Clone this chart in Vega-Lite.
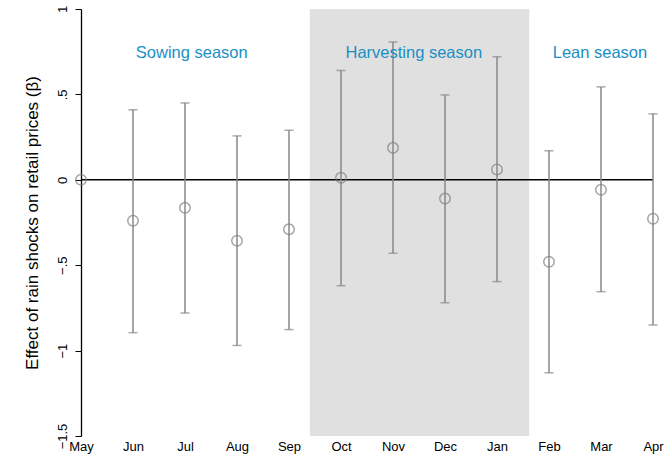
{
  "$schema": "https://vega.github.io/schema/vega-lite/v6.json",
  "width": 572,
  "height": 427,
  "autosize": {"type": "none"},
  "padding": {"left": 81, "top": 9, "right": 14, "bottom": 24},
  "config": {
    "view": {"stroke": null},
    "font": "Liberation Sans"
  },
  "datasets": {
    "est": [
      {"m": 0, "month": "May", "b": 0, "lo": 0, "hi": 0},
      {"m": 1, "month": "Jun", "b": -0.24, "lo": -0.895, "hi": 0.41},
      {"m": 2, "month": "Jul", "b": -0.164, "lo": -0.78, "hi": 0.45},
      {"m": 3, "month": "Aug", "b": -0.357, "lo": -0.97, "hi": 0.257},
      {"m": 4, "month": "Sep", "b": -0.29, "lo": -0.877, "hi": 0.29},
      {"m": 5, "month": "Oct", "b": 0.012, "lo": -0.62, "hi": 0.64},
      {"m": 6, "month": "Nov", "b": 0.187, "lo": -0.43, "hi": 0.807},
      {"m": 7, "month": "Dec", "b": -0.11, "lo": -0.72, "hi": 0.497},
      {"m": 8, "month": "Jan", "b": 0.06, "lo": -0.596, "hi": 0.72},
      {"m": 9, "month": "Feb", "b": -0.48, "lo": -1.13, "hi": 0.17},
      {"m": 10, "month": "Mar", "b": -0.058, "lo": -0.655, "hi": 0.544},
      {"m": 11, "month": "Apr", "b": -0.228, "lo": -0.85, "hi": 0.386}
    ],
    "seasons": [
      {"x": 2.13, "y": 0.74, "label": "Sowing season"},
      {"x": 6.4, "y": 0.74, "label": "Harvesting season"},
      {"x": 9.98, "y": 0.74, "label": "Lean season"}
    ],
    "shade": [
      {"x1": 4.4, "x2": 8.62, "y1": -1.5, "y2": 1}
    ]
  },
  "layer": [
    {
      "data": {"name": "shade"},
      "mark": {"type": "rect", "color": "#e0e0e0"},
      "encoding": {
        "x": {"field": "x1", "type": "quantitative", "scale": {"domain": [0, 11], "nice": false, "zero": false},
          "axis": {"values": [0,1,2,3,4,5,6,7,8,9,10,11], "labelExpr": "['May','Jun','Jul','Aug','Sep','Oct','Nov','Dec','Jan','Feb','Mar','Apr'][datum.value]", "domain": false, "ticks": false, "grid": false, "title": null, "labelFontSize": 13, "labelColor": "#000", "labelPadding": 4, "labelFont": "Liberation Sans", "labelFlush": false}},
        "x2": {"field": "x2"},
        "y": {"field": "y1", "type": "quantitative", "scale": {"domain": [-1.5, 1], "nice": false, "zero": false},
          "axis": {"values": [-1.5, -1, -0.5, 0, 0.5, 1], "labelExpr": "replace(format(datum.value, ''), '0.', '.')", "labelAngle": -90, "labelAlign": "center", "labelBaseline": "bottom", "labelPadding": 6, "tickSize": 6, "tickColor": "#000", "domainColor": "#000", "domainWidth": 1.3, "tickWidth": 1, "grid": false, "labelFontSize": 13, "labelColor": "#000", "title": "Effect of rain shocks on retail prices (β)", "titleFontSize": 17, "titleFontWeight": "normal", "titleColor": "#000", "titlePadding": 15, "titleFont": "Liberation Sans", "labelFont": "Liberation Sans", "labelFlush": false}},
        "y2": {"field": "y2"}
      }
    },
    {
      "data": {"values": [{"z": 0}]},
      "mark": {"type": "rule", "color": "#000", "strokeWidth": 1.5},
      "encoding": {"y": {"field": "z", "type": "quantitative"}}
    },
    {
      "data": {"name": "est"},
      "mark": {"type": "rule", "color": "#888888", "strokeWidth": 1.5},
      "encoding": {
        "x": {"field": "m", "type": "quantitative"},
        "y": {"field": "lo", "type": "quantitative"},
        "y2": {"field": "hi"}
      }
    },
    {
      "data": {"name": "est"},
      "transform": [{"filter": "datum.m > 0"}],
      "mark": {"type": "tick", "orient": "horizontal", "color": "#888888", "size": 9, "thickness": 1.5},
      "encoding": {
        "x": {"field": "m", "type": "quantitative"},
        "y": {"field": "hi", "type": "quantitative"}
      }
    },
    {
      "data": {"name": "est"},
      "transform": [{"filter": "datum.m > 0"}],
      "mark": {"type": "tick", "orient": "horizontal", "color": "#888888", "size": 9, "thickness": 1.5},
      "encoding": {
        "x": {"field": "m", "type": "quantitative"},
        "y": {"field": "lo", "type": "quantitative"}
      }
    },
    {
      "data": {"name": "est"},
      "mark": {"type": "point", "shape": "circle", "filled": false, "color": "#808080", "strokeWidth": 1.5, "size": 110},
      "encoding": {
        "x": {"field": "m", "type": "quantitative"},
        "y": {"field": "b", "type": "quantitative"}
      }
    },
    {
      "data": {"name": "seasons"},
      "mark": {"type": "text", "color": "#1a8fc4", "fontSize": 16.5, "font": "Liberation Sans", "align": "center", "baseline": "middle"},
      "encoding": {
        "x": {"field": "x", "type": "quantitative"},
        "y": {"field": "y", "type": "quantitative"},
        "text": {"field": "label"}
      }
    }
  ]
}
